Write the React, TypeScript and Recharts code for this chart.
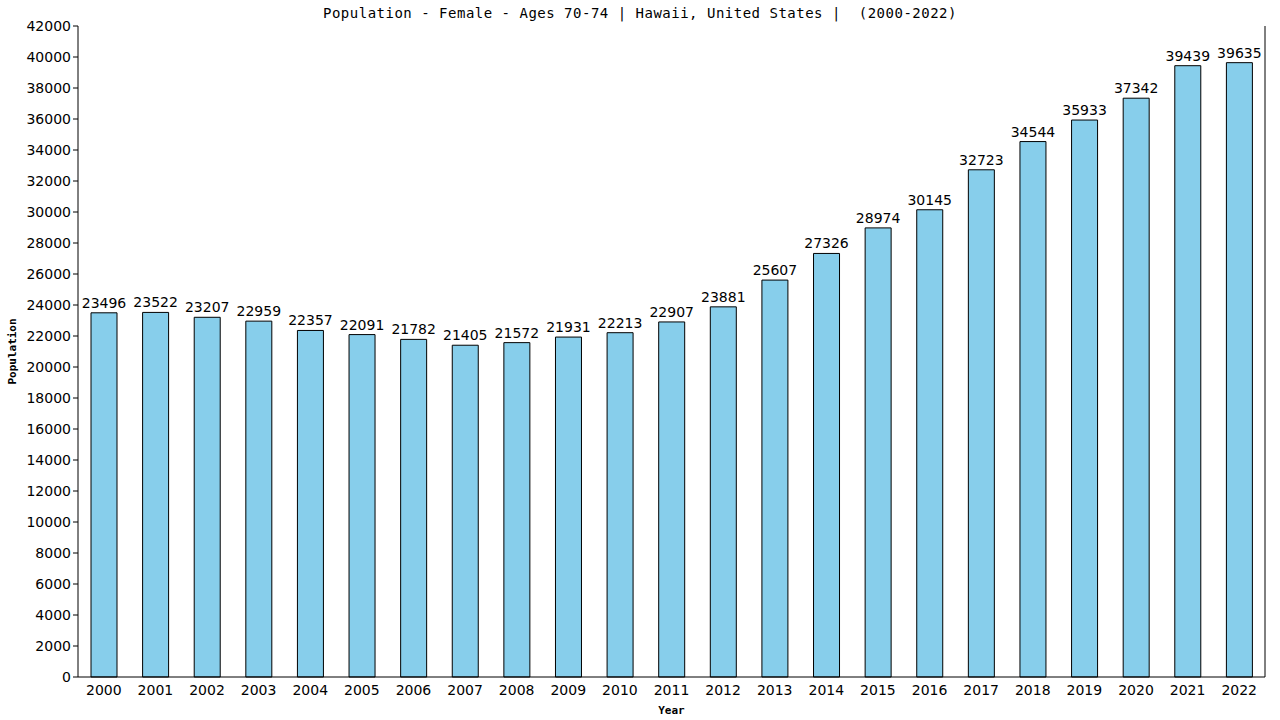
import React from 'react';
import { BarChart, Bar, XAxis, YAxis, LabelList, Label, ReferenceLine } from 'recharts';

const years = [
  '2000', '2001', '2002', '2003', '2004', '2005', '2006', '2007', '2008', '2009', '2010', '2011',
  '2012', '2013', '2014', '2015', '2016', '2017', '2018', '2019', '2020', '2021', '2022',
];
const population = [
  23496, 23522, 23207, 22959, 22357, 22091, 21782, 21405, 21572, 21931, 22213, 22907,
  23881, 25607, 27326, 28974, 30145, 32723, 34544, 35933, 37342, 39439, 39635,
];
const yTicks = [
  0, 2000, 4000, 6000, 8000, 10000, 12000, 14000, 16000, 18000, 20000, 22000, 24000,
  26000, 28000, 30000, 32000, 34000, 36000, 38000, 40000, 42000,
];

const data = years.map((year, i) => ({ year, value: population[i] }));

const tickFont = { fontFamily: 'DejaVu Sans', fontSize: 14, fill: '#000' };
const monoFont = 'DejaVu Sans Mono';

const App: React.FC = () => {
  return (
    <div style={{ position: 'relative', width: 1280, height: 720 }}>
      <style>{'body{margin:0}'}</style>
      <div
        style={{
          position: 'absolute',
          top: 5,
          width: 1280,
          textAlign: 'center',
          fontFamily: monoFont,
          fontSize: 14,
          letterSpacing: 0.5,
          color: '#000',
        }}
      >
        Population - Female - Ages 70-74 | Hawaii, United States |&nbsp; (2000-2022)
      </div>
      <BarChart
        width={1280}
        height={720}
        data={data}
        margin={{ top: 26, right: 15, bottom: 0, left: 0 }}
      >
        <XAxis
          dataKey="year"
          height={43}
          stroke="#000"
          tickLine={false}
          tick={tickFont}
          interval={0}
        >
          <Label
            value="Year"
            position="insideBottom"
            offset={6}
            style={{ fontFamily: monoFont, fontSize: 11, fontWeight: 'bold', fill: '#000' }}
          />
        </XAxis>
        <YAxis
          width={78}
          domain={[0, 42000]}
          ticks={yTicks}
          interval={0}
          stroke="#000"
          tickSize={5}
          tick={tickFont}
        >
          <Label
            value="Population"
            angle={-90}
            position="insideLeft"
            offset={12}
            style={{ fontFamily: monoFont, fontSize: 11, fontWeight: 'bold', fill: '#000', textAnchor: 'middle' }}
          />
        </YAxis>
        <ReferenceLine x="2022" position="end" stroke="#000" strokeWidth={1} />
        <Bar
          dataKey="value"
          fill="#87ceeb"
          stroke="#000"
          strokeWidth={1}
          barSize={26}
          isAnimationActive={false}
        >
          <LabelList
            dataKey="value"
            position="top"
            offset={5}
            style={{ fontFamily: 'DejaVu Sans', fontSize: 14, fill: '#000' }}
          />
        </Bar>
      </BarChart>
    </div>
  );
};

export default App;
